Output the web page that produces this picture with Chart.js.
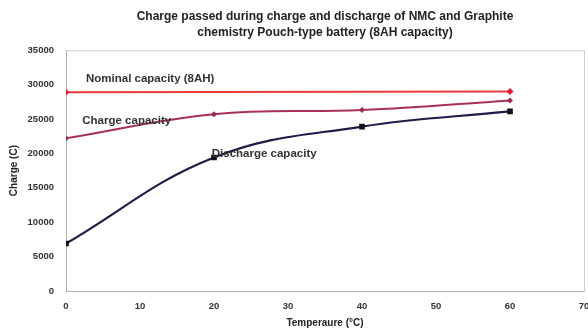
<!DOCTYPE html>
<html>
<head>
<meta charset="utf-8">
<script src="https://cdn.jsdelivr.net/npm/chart.js@4"></script>
<style>
  html, body { margin: 0; padding: 0; background: #fff; }
  #wrap { width: 588px; height: 329px; }
</style>
</head>
<body>
<div id="wrap"><canvas id="myChart" width="588" height="329"></canvas></div>
<script>
// values
var nominalTemps = [0, 60];
var nominalCharge = [28900, 29000];
var chargeTemps = [0, 20, 40, 60];
var chargeCapacity = [22200, 25700, 26300, 27700];
var dischargeTemps = [0, 20, 40, 60];
var dischargeCapacity = [6900, 19400, 23900, 26100];
var xTicks = [0, 10, 20, 30, 40, 50, 60, 70];
var yTicks = [0, 5000, 10000, 15000, 20000, 25000, 30000, 35000];

function toPoints(xs, ys) {
    var pts = [];
    for (let i = 0; i < xs.length; i++) {
        pts.push({x: xs[i], y: ys[i]});
    }
    return pts;
}

// text labels placed in data coordinates
var lineLabels = [
    {text: 'Nominal capacity (8AH)', x: 2.7, y: 30800},
    {text: 'Charge capacity', x: 2.2, y: 24800},
    {text: 'Discharge capacity', x: 19.7, y: 20000}
];

var frameAndLabels = {
    id: 'frameAndLabels',
    beforeDatasetsDraw: function(chart) {
        var ctx = chart.ctx, a = chart.chartArea;
        ctx.save();
        ctx.strokeStyle = '#d0d0d0';
        ctx.lineWidth = 1;
        ctx.strokeRect(a.left + 0.5, a.top + 0.5, a.right - a.left, a.bottom - a.top);
        ctx.strokeStyle = '#b0b0b0';
        ctx.beginPath();
        ctx.moveTo(a.left + 0.5, a.top);
        ctx.lineTo(a.left + 0.5, a.bottom + 0.5);
        ctx.lineTo(a.right, a.bottom + 0.5);
        ctx.stroke();
        ctx.restore();
    },
    afterDatasetsDraw: function(chart) {
        var ctx = chart.ctx;
        var xs = chart.scales.x, ys = chart.scales.y;
        ctx.save();
        ctx.font = 'bold 11.5px "Liberation Sans", Arial, sans-serif';
        ctx.fillStyle = '#333';
        ctx.textBaseline = 'middle';
        lineLabels.forEach(l => {
            ctx.fillText(l.text, xs.getPixelForValue(l.x), ys.getPixelForValue(l.y));
        });
        ctx.restore();
    }
};

var tickFont = {family: '"Liberation Sans", Arial, sans-serif', size: 9.5, weight: 'bold'};

var ctx = document.getElementById('myChart');
var chart = new Chart(ctx, {
    type: 'line',
    data: {
        datasets: [
            {
                label: 'Nominal capacity (8AH)',
                data: toPoints(nominalTemps, nominalCharge),
                borderColor: '#ee3a3a',
                backgroundColor: '#e0203a',
                borderWidth: 2,
                pointStyle: 'rectRot',
                pointRadius: 3.5,
                pointBorderWidth: 0
            },
            {
                label: 'Charge capacity',
                data: toPoints(chargeTemps, chargeCapacity),
                borderColor: '#a8305a',
                backgroundColor: '#9a2a5a',
                borderWidth: 2,
                tension: 0.4,
                pointStyle: 'rectRot',
                pointRadius: 3,
                pointBorderWidth: 0
            },
            {
                label: 'Discharge capacity',
                data: toPoints(dischargeTemps, dischargeCapacity),
                borderColor: '#1c1c48',
                backgroundColor: '#111',
                borderWidth: 2.2,
                tension: 0.4,
                pointStyle: 'rect',
                pointRadius: 4,
                pointBorderWidth: 0
            }
        ]
    },
    options: {
        responsive: false,
        animation: false,
        layout: {padding: 0},
        plugins: {
            legend: {display: false},
            tooltip: {enabled: false},
            title: {
                display: true,
                fullSize: false,
                text: ['Charge passed during charge and discharge of NMC and Graphite',
                       'chemistry Pouch-type battery (8AH capacity)'],
                color: '#222',
                font: {family: '"Liberation Sans", Arial, sans-serif', size: 12, weight: 'bold', lineHeight: 1.3},
                padding: {top: 9, bottom: 10}
            }
        },
        scales: {
            x: {
                type: 'linear',
                min: 0,
                max: 70,
                afterBuildTicks: function(axis) { axis.ticks = xTicks.map(v => ({value: v})); },
                grid: {display: false, drawTicks: false},
                border: {display: false},
                ticks: {color: '#333', font: tickFont, padding: 10, maxRotation: 0,
                        callback: function(v) { return String(v); }},
                title: {
                    display: true,
                    text: 'Temperaure (\u00B0C)',
                    color: '#222',
                    font: {family: '"Liberation Sans", Arial, sans-serif', size: 10, weight: 'bold'},
                    padding: {top: 0, bottom: 0}
                },
                afterFit: function(axis) {
                    axis.height = 38;
                    axis.paddingRight = 4;
                }
            },
            y: {
                min: 0,
                max: 35000,
                afterBuildTicks: function(axis) { axis.ticks = yTicks.map(v => ({value: v})); },
                grid: {display: false, drawTicks: false},
                border: {display: false},
                ticks: {color: '#333', font: tickFont, padding: 12,
                        callback: function(v) { return String(v); }},
                title: {
                    display: true,
                    text: 'Charge (C)',
                    color: '#222',
                    font: {family: '"Liberation Sans", Arial, sans-serif', size: 10, weight: 'bold'},
                    padding: {top: 8, bottom: 0}
                },
                afterFit: function(axis) { axis.width = 66; }
            }
        }
    },
    plugins: [frameAndLabels]
});
</script>
</body>
</html>
